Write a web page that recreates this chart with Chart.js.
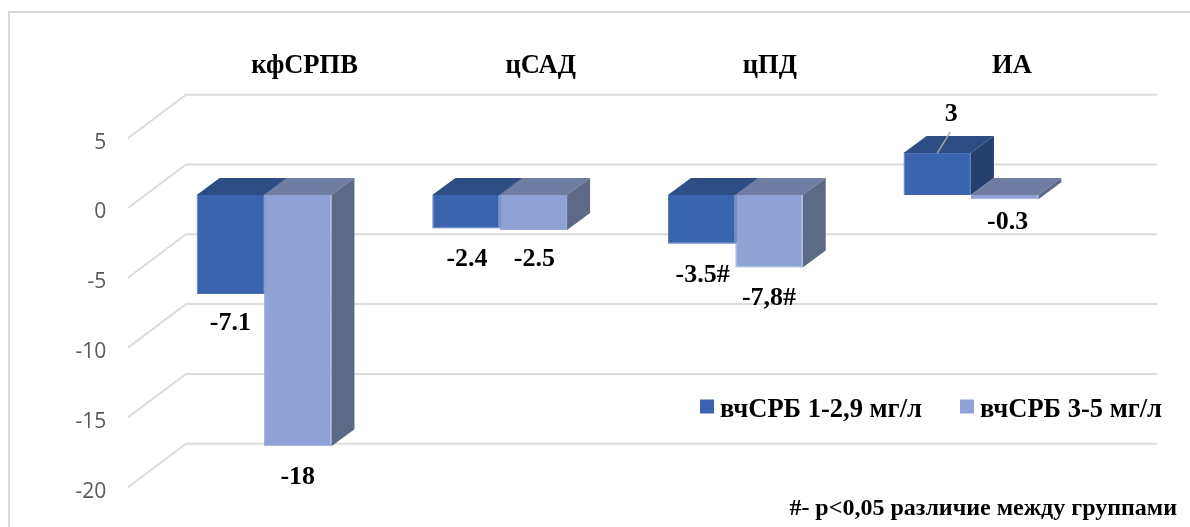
<!DOCTYPE html>
<html>
<head>
<meta charset="utf-8">
<style>
    html, body { margin: 0; padding: 0; background: #fff; overflow: hidden; }
    canvas { display: block; }
</style>
<script src="https://cdn.jsdelivr.net/npm/chart.js@4"></script>
</head>
<body>
<canvas id="myChart" width="1190" height="527"></canvas>
<script>
// Данные
const categories = ['кфСРПВ', 'цСАД', 'цПД', 'ИА'];
const seriesNames = ['вчСРБ 1-2,9 мг/л', 'вчСРБ 3-5 мг/л'];
const valuesFirst = [-7.1, -2.4, -3.5, 3];
const valuesSecond = [-18, -2.5, -5.2, -0.3];
const labelsFirst = ['-7.1', '-2.4', '-3.5#', '3'];
const labelsSecond = ['-18', '-2.5', '-7,8#', '-0.3'];
const footnote = '#- р<0,05 различие между группами';

// Цвета граней: перед, верх, бок
const faceColors = [
    { front: '#3a64ad', top: '#2e4d84', side: '#253f6e', edge: '#4b73b8' },
    { front: '#8fa2d5', top: '#6e7da1', side: '#5c6987', edge: '#97a9da' }
];

// Смещения глубины
const depthX = 23;
const depthY = -17;
const wallBack = { x: 186, dy: -30.5 };
const wallFront = { x: 128, dy: 13 };

// Сдвиг подписей от края столбика
const categoryShift = [40.5, 41, 34.5, 41];
const gapFirst = [29.5, 30.5, 31, -39];
const gapSecond = [31, 29.5, 31, 23];
const shiftFirst = [0, 1, 1, 14];
const shiftSecond = [0, 1, 0, 3];

const serif = '"Liberation Serif", serif';

const scene3d = {
    id: 'scene3d',
    beforeDraw(chart) {
        const ctx = chart.ctx;
        // Рамка
        ctx.save();
        ctx.strokeStyle = '#d9d9d9';
        ctx.lineWidth = 2;
        ctx.beginPath();
        ctx.moveTo(9, 527);
        ctx.lineTo(9, 12);
        ctx.lineTo(1190, 12);
        ctx.stroke();
        ctx.restore();
        // Подписи категорий
        const x = chart.scales.x;
        x.getLabelItems().forEach((item, i) => {
            item.options.translation[0] = x.getPixelForTick(i) + categoryShift[i];
            item.options.translation[1] = 66;
            item.options.textBaseline = 'middle';
            item.textOffset = 0;
        });
    },
    beforeDatasetsDraw(chart) {
        const ctx = chart.ctx;
        const y = chart.scales.y;
        // Сетка
        ctx.save();
        ctx.strokeStyle = '#dcdcdc';
        ctx.lineWidth = 2;
        y.ticks.forEach(t => {
            const py = y.getPixelForValue(t.value);
            ctx.beginPath();
            ctx.moveTo(wallFront.x, py + wallFront.dy);
            ctx.lineTo(wallBack.x, py + wallBack.dy);
            ctx.lineTo(1157, py + wallBack.dy);
            ctx.stroke();
        });
        // Верх и бок столбиков
        [0, 1].forEach(d => {
            chart.getDatasetMeta(d).data.forEach(bar => {
                const left = bar.x - bar.width / 2;
                const right = bar.x + bar.width / 2;
                const top = Math.min(bar.y, bar.base);
                const bottom = Math.max(bar.y, bar.base);
                ctx.fillStyle = faceColors[d].top;
                poly(ctx, [[left, top], [left + depthX, top + depthY], [right + depthX, top + depthY], [right, top]]);
                ctx.fillStyle = faceColors[d].side;
                poly(ctx, [[right, top], [right + depthX, top + depthY], [right + depthX, bottom + depthY], [right, bottom]]);
            });
        });
        ctx.restore();
    },
    afterDatasetsDraw(chart) {
        const ctx = chart.ctx;
        ctx.save();
        ctx.fillStyle = '#000';
        ctx.textAlign = 'center';
        ctx.textBaseline = 'middle';
        ctx.font = 'bold 26px ' + serif;
        chart.getDatasetMeta(0).data.forEach((bar, i) => {
            ctx.fillText(labelsFirst[i], bar.x + shiftFirst[i], bar.y + gapFirst[i]);
        });
        chart.getDatasetMeta(1).data.forEach((bar, i) => {
            ctx.fillText(labelsSecond[i], bar.x + shiftSecond[i], bar.y + gapSecond[i]);
        });
        // Выноска к значению 3
        const b = chart.getDatasetMeta(0).data[3];
        ctx.strokeStyle = '#a6a6a6';
        ctx.lineWidth = 1.5;
        ctx.beginPath();
        ctx.moveTo(b.x, b.y);
        ctx.lineTo(b.x + 13, b.y - 21);
        ctx.stroke();

        // Легенда
        const legendX = [700, 960];
        ctx.textAlign = 'left';
        ctx.font = 'bold 26.5px ' + serif;
        seriesNames.forEach((name, i) => {
            ctx.fillStyle = faceColors[i].front;
            ctx.fillRect(legendX[i], 399.5, 14, 14);
            ctx.fillStyle = '#000';
            ctx.fillText(name, legendX[i] + 20, 410);
        });

        // Сноска
        ctx.textAlign = 'right';
        ctx.font = 'bold 24px ' + serif;
        ctx.fillText(footnote, 1177, 509);
        ctx.restore();
    }
};

function poly(ctx, pts) {
    ctx.beginPath();
    pts.forEach((p, i) => i ? ctx.lineTo(p[0], p[1]) : ctx.moveTo(p[0], p[1]));
    ctx.closePath();
    ctx.fill();
}

new Chart(document.getElementById('myChart'), {
    type: 'bar',
    data: {
        labels: categories,
        datasets: [
            { label: seriesNames[0], data: valuesFirst, backgroundColor: faceColors[0].front, borderColor: faceColors[0].edge, borderWidth: 1 },
            { label: seriesNames[1], data: valuesSecond, backgroundColor: faceColors[1].front, borderColor: faceColors[1].edge, borderWidth: 1 }
        ]
    },
    options: {
        responsive: false,
        animation: false,
        categoryPercentage: 0.572,
        barPercentage: 1,
        layout: { padding: { top: 0, left: 0, right: 101.25, bottom: 52.8 } },
        plugins: { legend: { display: false }, title: { display: false }, tooltip: { enabled: false } },
        scales: {
            x: {
                position: 'top',
                afterFit(scale) { scale.height = 125.2; },
                grid: { display: false, drawTicks: false },
                border: { display: false },
                ticks: { maxRotation: 0, color: '#000', font: { family: serif, size: 26.5, weight: 'bold' } }
            },
            y: {
                min: -20,
                max: 5,
                afterFit(scale) { scale.width = 146.25; },
                grid: { display: false, drawTicks: false },
                border: { display: false },
                ticks: {
                    stepSize: 5,
                    padding: 40,
                    labelOffset: 17.5,
                    color: '#595959',
                    font: { family: '"Open Sans", sans-serif', size: 21 }
                }
            }
        }
    },
    plugins: [scene3d]
});
</script>
</body>
</html>
